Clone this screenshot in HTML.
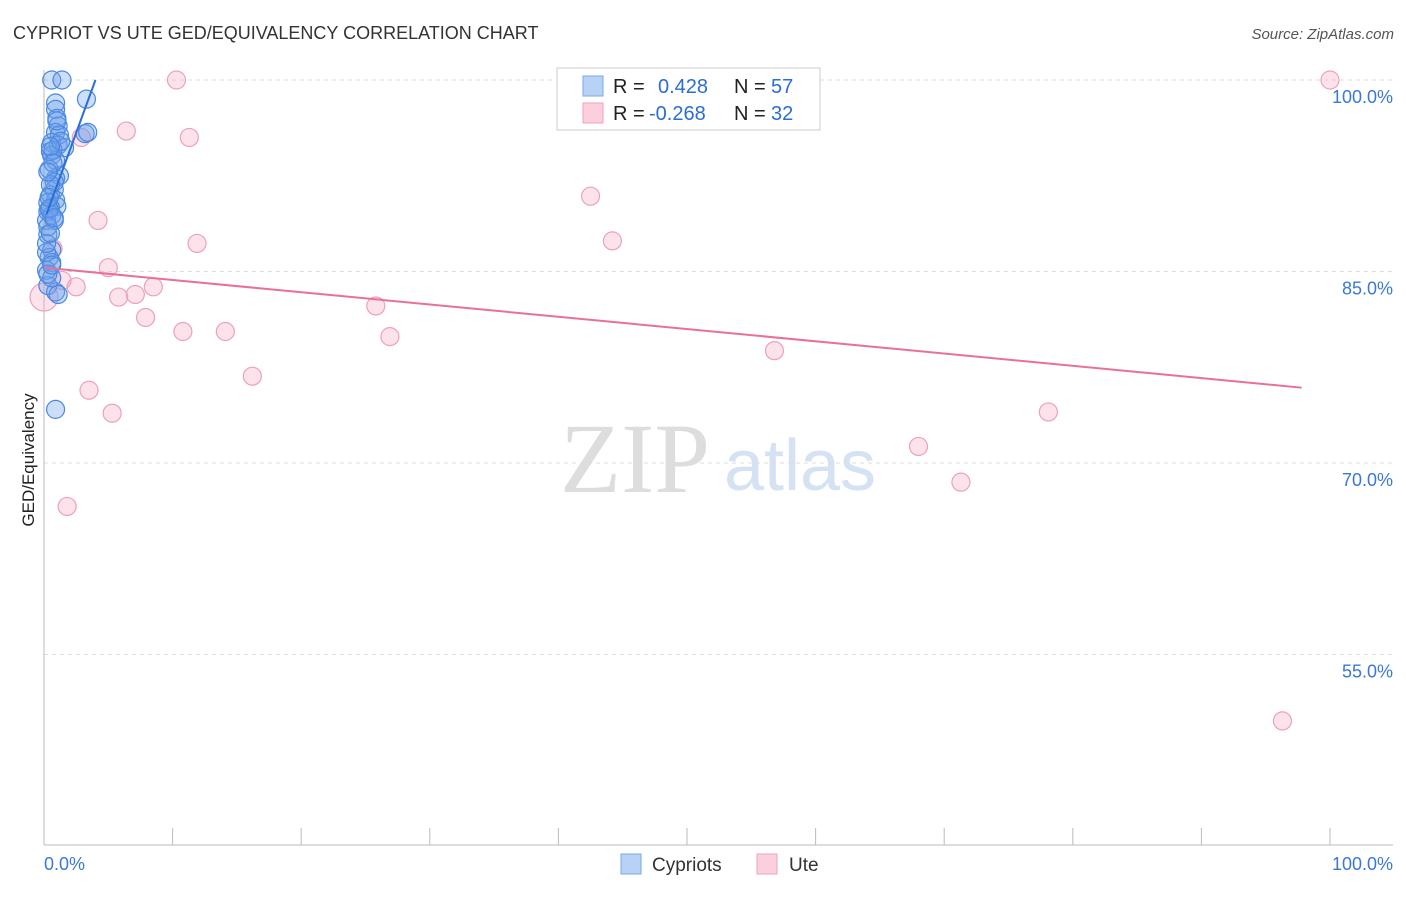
<!DOCTYPE html>
<html><head><meta charset="utf-8"><style>
body{margin:0;background:#fff;font-family:"Liberation Sans",sans-serif;}
</style></head><body>
<svg id="chart" width="1406" height="892" xmlns="http://www.w3.org/2000/svg">
<text x="13" y="39" font-size="18" fill="#333">CYPRIOT VS UTE GED/EQUIVALENCY CORRELATION CHART</text>
<text x="1394" y="39" font-size="15" fill="#555" text-anchor="end" font-style="italic">Source: ZipAtlas.com</text>
<text x="34" y="460" font-size="17" fill="#222" text-anchor="middle" transform="rotate(-90 34 460)">GED/Equivalency</text>
<text x="635" y="492" font-size="100" fill="#ddd" font-family="Liberation Serif,serif" text-anchor="middle">ZIP</text>
<text x="800" y="490" font-size="72" fill="#d4e2f4" text-anchor="middle">atlas</text>
<g id="grid"></g><g id="pts"></g><g id="lines"></g>
<g>
<rect x="557" y="68" width="263" height="62" fill="#fff" stroke="#ccc"/>
<rect x="583" y="76" width="20" height="20" fill="#b8d2f5" stroke="#7aa8e8"/>
<rect x="583" y="103" width="20" height="20" fill="#fbcfdd" stroke="#f0a0bc"/>
<text x="613" y="93" font-size="20" fill="#222">R = </text><text x="658" y="93" font-size="20" fill="#2a6dd6">0.428</text>
<text x="734" y="93" font-size="20" fill="#222">N = </text><text x="771" y="93" font-size="20" fill="#2a6dd6">57</text>
<text x="613" y="120" font-size="20" fill="#222">R = </text><text x="649" y="120" font-size="20" fill="#2a6dd6">-0.268</text>
<text x="734" y="120" font-size="20" fill="#222">N = </text><text x="771" y="120" font-size="20" fill="#2a6dd6">32</text>
</g>
<g>
<rect x="621" y="854" width="20" height="20" fill="#b8d2f5" stroke="#7aa8e8"/>
<text x="652" y="871" font-size="19" fill="#333">Cypriots</text>
<rect x="757" y="854" width="20" height="20" fill="#fbcfdd" stroke="#f0a0bc"/>
<text x="789" y="871" font-size="19" fill="#333">Ute</text>
</g>
<text x="44" y="870" font-size="18" fill="#3a78d8">0.0%</text>
<text x="1393" y="870" font-size="18" fill="#3a78d8" text-anchor="end">100.0%</text>
</svg>
<script>
const yTicks=[100,85,70,55];
const yTickLabels=["100.0%","85.0%","70.0%","55.0%"];
const blueX=[0.6,1.4,3.3,0.9,0.9,1.0,1.1,0.9,1.2,3.2,3.4,0.6,1.1,1.6,0.5,0.6,0.9,1.2,0.9,0.8,0.5,0.9,0.3,1.0,0.3,0.6,0.2,0.8,0.3,0.6,0.4,0.6,0.2,0.3,0.9,1.1,0.9,0.4,0.7,0.5,0.3,0.8,0.2,0.6,1.3,0.4,0.5,0.2,0.7,0.3,0.5,1.0,0.4,0.6,0.3,0.8,0.5];
const blueY=[100,100,98.5,98.2,97.7,97.0,96.4,95.9,95.7,95.8,95.9,95.1,94.9,94.7,94.4,94.1,93.7,92.5,92.3,91.4,91.0,90.6,90.4,90.1,89.7,89.4,89.0,89.0,87.9,86.7,86.1,85.7,85.1,83.9,83.4,83.2,74.2,93.0,94.5,90.0,88.5,92.0,86.5,84.5,95.2,89.9,91.8,87.2,93.5,84.8,88.0,96.8,90.8,85.5,92.8,89.2,94.8];
const pinkX=[0,0.7,1.4,1.8,2.5,2.9,3.5,4.2,5.0,5.3,5.8,6.4,7.1,7.9,8.5,10.3,10.8,11.3,11.9,14.1,16.2,25.8,26.9,42.5,44.2,52.5,56.8,68.0,71.3,78.1,96.3,100];
const pinkY=[83.0,86.8,84.3,66.6,83.8,95.5,75.7,89.0,85.3,73.9,83.0,96.0,83.2,81.4,83.8,100,80.3,95.5,87.2,80.3,76.8,82.3,79.9,90.9,87.4,100,78.8,71.3,68.5,74.0,49.8,100];
const blueLine=[[0.2,89.5],[4.0,100]];
const pinkLine=[[0,85.3],[97.8,75.9]];
const xS=v=>44+v*12.86, yS=v=>80+(100-v)*12.767;
const NS="http://www.w3.org/2000/svg";
function mk(t,a,p){const e=document.createElementNS(NS,t);for(const k in a)e.setAttribute(k,a[k]);p.appendChild(e);return e;}
const grid=document.getElementById('grid');
yTicks.forEach((t,i)=>{
 const l=mk('line',{x1:44,x2:1393,y1:yS(t),y2:yS(t),stroke:'#ddd','stroke-dasharray':'4,4'},grid);
 
 
 const tx=mk('text',{x:1393,y:yS(t)+23,'font-size':18,fill:'#3a78d8','text-anchor':'end'},grid);
 tx.textContent=yTickLabels[i];
 
 
});
const ax=mk('line',{x1:44,x2:1393,y1:845,y2:845,stroke:'#bbb'},grid);


const ay=mk('line',{x1:44,x2:44,y1:70,y2:845,stroke:'#bbb'},grid);


for(let i=0;i<=10;i++){
 const tk=mk('line',{x1:xS(i*10),x2:xS(i*10),y1:828,y2:845,stroke:'#bbb'},grid);
 
 
}
const pts=document.getElementById('pts');
pinkX.forEach((x,i)=>{
 const c=mk('circle',{cx:xS(x),cy:yS(pinkY[i]),r:i===0?14:9,fill:'rgba(245,160,190,0.3)',stroke:'#eea0bc','stroke-width':1.2},pts);
 
 
});
blueX.forEach((x,i)=>{
 const c=mk('circle',{cx:xS(x),cy:yS(blueY[i]),r:9,fill:'rgba(110,160,235,0.35)',stroke:'#4a88e0','stroke-width':1.2},pts);
 
 
});
const lines=document.getElementById('lines');
const bl=mk('line',{x1:xS(blueLine[0][0]),y1:yS(blueLine[0][1]),x2:xS(blueLine[1][0]),y2:yS(blueLine[1][1]),stroke:'#2a6dd6','stroke-width':2},lines);


const pl=mk('line',{x1:xS(pinkLine[0][0]),y1:yS(pinkLine[0][1]),x2:xS(pinkLine[1][0]),y2:yS(pinkLine[1][1]),stroke:'#e8709a','stroke-width':2},lines);


</script>
</body></html>
